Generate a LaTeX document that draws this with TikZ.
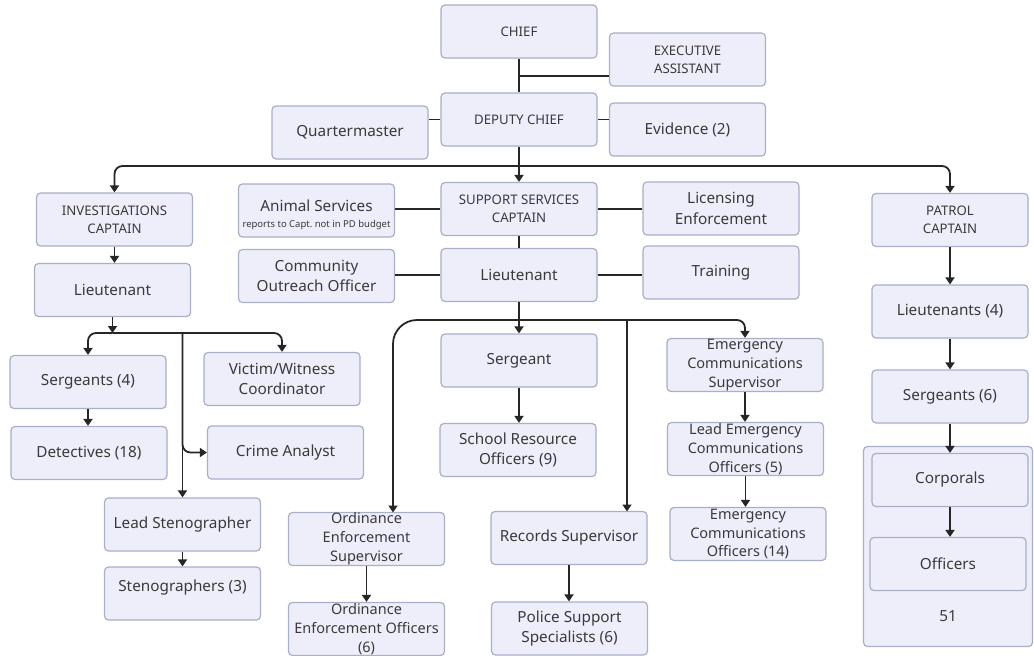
\documentclass[tikz,border=0pt]{standalone}
\usepackage{fontspec}
\setmainfont{Noto Sans}
\usetikzlibrary{arrows.meta}
\definecolor{relleno}{RGB}{238,238,251}
\definecolor{borde}{RGB}{168,175,198}
\definecolor{trazo}{RGB}{38,38,38}
\definecolor{texto}{RGB}{58,58,58}
\begin{document}
\begin{tikzpicture}[x=1pt,y=-1pt,
    caja/.style={draw=borde,fill=relleno,line width=1.2pt,rounded corners=4pt,
        minimum width=156pt,minimum height=53pt,inner sep=0pt,align=center,text=texto},
    mayus/.style={caja,font=\fontsize{13.2}{17.7}\selectfont},
    normal/.style={caja,font=\fontsize{15.3}{20.5}\selectfont},
    triple/.style={caja,font=\fontsize{14.5}{18.8}\selectfont},
    linea/.style={trazo,line width=1.8pt},
    flecha/.style={linea,-{Triangle[width=9pt,length=7pt]}},
    codo/.style={flecha,rounded corners=8pt}]
    \useasboundingbox (0,0) rectangle (1034,656);
    % Marco de fondo del grupo de patrulla.
    \node[caja,minimum width=169pt,minimum height=200pt] (grupo) at (948,546.5) {};
    % Mandos en mayusculas.
    \foreach \nm/\cx/\cy/\txt in {chief/519/31.5/CHIEF, dc/519/119.5/{DEPUTY CHIEF},
            ea/687.5/59.5/{EXECUTIVE\\ASSISTANT}, invc/114.5/219.5/{INVESTIGATIONS\\CAPTAIN},
            ssc/519/209/{SUPPORT SERVICES\\CAPTAIN}, patc/950/220/{PATROL\\CAPTAIN}} {
        \node[mayus] (\nm) at (\cx,\cy) {\txt};
    }
    % Puestos de una o dos lineas.
    \foreach \nm/\cx/\cy/\txt in {qm/350/132.5/Quartermaster, ev/687.5/129.5/{Evidence (2)},
            lic/721/208.5/{Licensing\\Enforcement}, invlt/112.5/290/Lieutenant,
            coo/316.5/276/{Community\\Outreach Officer}, sslt/519/275/Lieutenant,
            tr/721/272.5/Training, plt/950/311.5/{Lieutenants (4)},
            sg4/88/382/{Sergeants (4)}, vw/282/379/{Victim/Witness\\Coordinator},
            det/89/453/{Detectives (18)}, ca/285.5/452.5/{Crime Analyst},
            lst/182.5/524.5/{Lead Stenographer}, sgt/519/360.5/Sergeant,
            sro/518/450/{School Resource\\Officers (9)}, rs/569/538/{Records Supervisor},
            pss/569.5/628.5/{Police Support\\Specialists (6)}, psg/950/396.5/{Sergeants (6)},
            corp/950/480/Corporals, off/948/564/Officers} {
        \node[normal] (\nm) at (\cx,\cy) {\txt};
    }
    \node[normal,text depth=15pt] (st3) at (182.5,593.5) {Stenographers (3)};
    % Puestos de tres lineas.
    \foreach \nm/\cx/\cy/\txt in {ecs/745/365/{Emergency\\Communications\\Supervisor},
            leco/745.5/449/{Lead Emergency\\Communications\\Officers (5)},
            eco/748/534/{Emergency\\Communications\\Officers (14)},
            oes/366.5/539/{Ordinance\\Enforcement\\Supervisor},
            oeo/366.5/629/{Ordinance\\Enforcement Officers\\(6)}} {
        \node[triple] (\nm) at (\cx,\cy) {\txt};
    }
    \node[caja,font=\fontsize{15.3}{15.5}\selectfont,text height=36pt] (as) at (316.5,210.5)
        {Animal Services\\{\fontsize{9.5}{11}\selectfont reports to Capt.\ not in PD budget}};
    \node[font=\fontsize{15.3}{17}\selectfont,text=texto] (tot) at (948,616) {51};
    % Direccion.
    \coordinate (ejea) at (519,76);
    \coordinate (bus) at (519,166);
    \draw[linea] (chief) -- (dc);
    \draw[linea] (ejea) -- (ejea -| ea.west);
    \draw[linea] (dc.west) -- (dc.west -| qm.east);
    \draw[linea] (dc.east) -- (dc.east -| ev.west);
    \draw[linea] (dc) -- (bus);
    \draw[codo] (bus) -| (invc);
    \draw[codo] (bus) -| (patc);
    \draw[flecha] (bus) -- (ssc);
    % Servicios de apoyo.
    \coordinate (bus2) at (519,320);
    \coordinate (oesin) at (393,512.5);
    \coordinate (rsin) at (627,511.5);
    \draw[linea] (ssc.west) -- (ssc.west -| as.east);
    \draw[linea] (ssc.east) -- (ssc.east -| lic.west);
    \draw[linea] (ssc) -- (sslt);
    \draw[linea] (sslt.west) -- (sslt.west -| coo.east);
    \draw[linea] (sslt.east) -- (sslt.east -| tr.west);
    \draw[linea] (sslt) -- (bus2);
    \draw[flecha] (bus2) -- (sgt);
    \draw[flecha,rounded corners=24pt] (bus2) -| (oesin);
    \draw[codo] (bus2) -| (ecs);
    \draw[flecha] (bus2 -| rsin) -- (rsin);
    \draw[flecha] (sgt) -- (sgt |- sro.north);
    \draw[flecha] (ecs) -- (ecs |- leco.north);
    \draw[flecha] (leco) -- (leco |- eco.north);
    \draw[flecha] (oes) -- (oeo);
    \draw[flecha] (rs) -- (rs |- pss.north);
    % Investigaciones.
    \coordinate (bus3) at (112.5,333);
    \coordinate (bus3b) at (182.5,333);
    \draw[flecha] (invc) -- (invc |- invlt.north);
    \draw[flecha] (invlt) -- (bus3);
    \draw[codo] (bus3) -| (sg4);
    \draw[codo] (bus3) -| (vw);
    \draw[flecha] (bus3b) -- (lst);
    \draw[codo] (bus3b) |- (ca);
    \draw[flecha] (sg4) -- (sg4 |- det.north);
    \draw[flecha] (lst) -- (st3);
    % Patrulla.
    \draw[flecha] (patc) -- (plt);
    \draw[flecha] (plt) -- (psg);
    \draw[flecha] (psg) -- (corp);
    \draw[flecha] (corp) -- (corp |- off.north);
\end{tikzpicture}
\end{document}
